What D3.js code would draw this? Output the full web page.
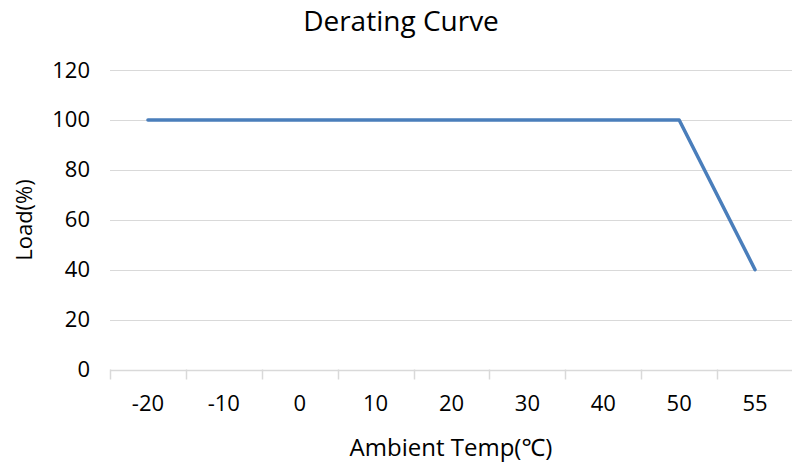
<!DOCTYPE html>
<html lang="en">
<head>
<meta charset="UTF-8">
<title>Derating Curve</title>
<script src="https://d3js.org/d3.v7.min.js"></script>
<style>
  body { margin: 0; background: #fff; }
  text { font-family: "Open Sans", "Noto Sans", sans-serif; fill: #000; }
</style>
</head>
<body>
<div id="chart"></div>
<script>
// data
const temps = ["-20", "-10", "0", "10", "20", "30", "40", "50", "55"];
const load = [100, 100, 100, 100, 100, 100, 100, 100, 40];
const yTicks = [0, 20, 40, 60, 80, 100, 120];

const width = 792, height = 462;
const plotLeft = 110, plotRight = 793, plotTop = 70, plotBottom = 369.5;

const svg = d3.select("#chart").append("svg")
  .attr("width", width)
  .attr("height", height);

const x = d3.scaleBand()
  .domain(temps)
  .range([plotLeft, plotRight]);

const y = d3.scaleLinear()
  .domain([0, 120])
  .range([plotBottom, plotTop]);

// horizontal gridlines
svg.append("g")
  .selectAll("line")
  .data(yTicks.filter(d => d > 0))
  .enter().append("line")
  .attr("x1", plotLeft)
  .attr("x2", plotRight)
  .attr("y1", d => Math.round(y(d)) + 0.5)
  .attr("y2", d => Math.round(y(d)) + 0.5)
  .attr("stroke", "#d9d9d9")
  .attr("stroke-width", 1.2);

// y axis labels
const yAxis = svg.append("g")
  .attr("transform", `translate(${plotLeft},0)`)
  .call(d3.axisLeft(y).tickValues(yTicks).tickSize(0).tickPadding(20));
yAxis.select(".domain").remove();
yAxis.selectAll("text")
  .style("font-size", "22px")
  .style("font-family", "'Open Sans', sans-serif")
  .attr("fill", "#000");

// x axis line and boundary tick marks
svg.append("line")
  .attr("x1", plotLeft)
  .attr("x2", plotRight)
  .attr("y1", Math.round(plotBottom) + 0.5)
  .attr("y2", Math.round(plotBottom) + 0.5)
  .attr("stroke", "#d9d9d9")
  .attr("stroke-width", 1.5);

const bounds = temps.map(t => x(t)).concat([x.range()[1]]);
svg.append("g")
  .selectAll("line")
  .data(bounds)
  .enter().append("line")
  .attr("x1", d => Math.round(d) + 0.5)
  .attr("x2", d => Math.round(d) + 0.5)
  .attr("y1", plotBottom)
  .attr("y2", plotBottom + 10)
  .attr("stroke", "#d9d9d9")
  .attr("stroke-width", 1.5);

const xAxis = svg.append("g")
  .attr("transform", `translate(0,${plotBottom})`)
  .call(d3.axisBottom(x).tickSize(0).tickPadding(26));
xAxis.select(".domain").remove();
xAxis.selectAll("text")
  .style("font-size", "22px")
  .style("font-family", "'Open Sans', sans-serif")
  .attr("fill", "#000");

// the curve
const line = d3.line()
  .x((d, i) => x(temps[i]) + x.bandwidth() / 2)
  .y(d => y(d));

svg.append("path")
  .datum(load)
  .attr("fill", "none")
  .attr("stroke", "#4a7ebb")
  .attr("stroke-width", 3.5)
  .attr("stroke-linejoin", "round")
  .attr("stroke-linecap", "round")
  .attr("d", line);

// titles
svg.append("text")
  .attr("x", 401)
  .attr("y", 31)
  .attr("text-anchor", "middle")
  .style("font-size", "28px")
  .text("Derating Curve");

svg.append("text")
  .attr("x", 451)
  .attr("y", 456)
  .attr("text-anchor", "middle")
  .style("font-size", "24px")
  .text("Ambient Temp(℃)");

svg.append("text")
  .attr("transform", "translate(32,220) rotate(-90)")
  .attr("text-anchor", "middle")
  .style("font-size", "22px")
  .text("Load(%)");
</script>
</body>
</html>
